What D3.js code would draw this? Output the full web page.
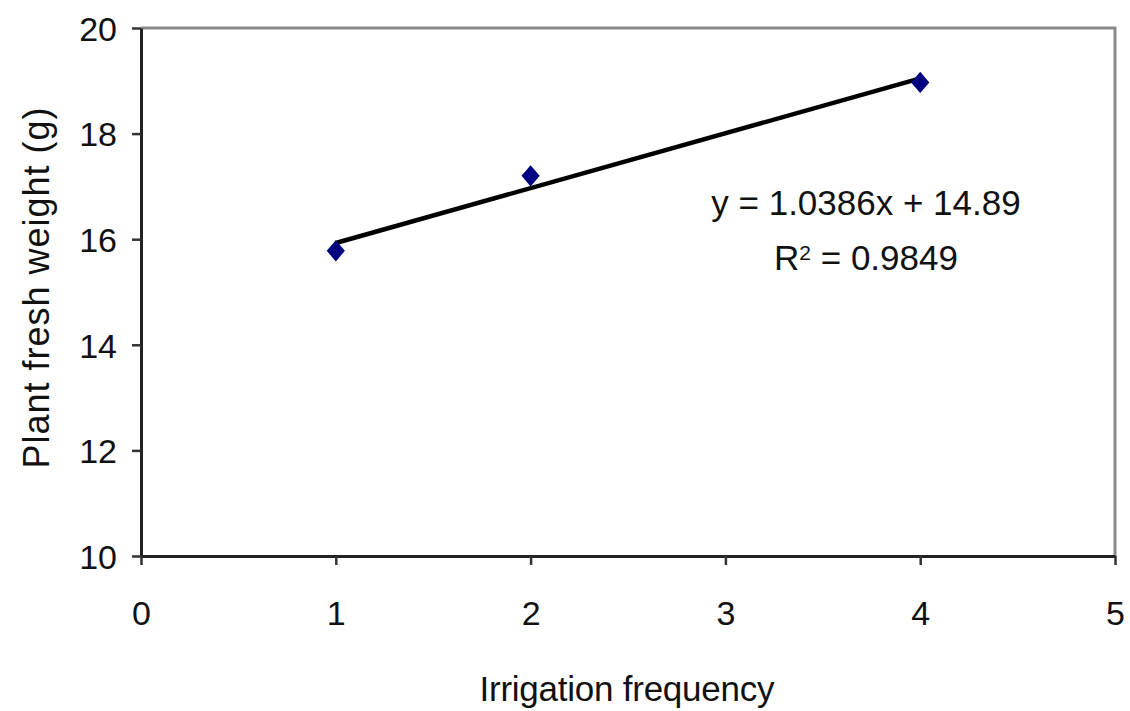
<!DOCTYPE html>
<html>
<head>
<meta charset="utf-8">
<script src="https://cdn.jsdelivr.net/npm/d3@7"></script>
<style>
  body { margin: 0; background: #fff; }
  svg { font-family: "Liberation Sans", Arial, sans-serif; }
</style>
</head>
<body>
<svg width="1130" height="711"></svg>
<script>
// data
var frequency = [1, 2, 4];
var freshWeight = [15.78, 17.2, 18.97];
var xTicks = [0, 1, 2, 3, 4, 5];
var yTicks = [10, 12, 14, 16, 18, 20];
var slope = 1.0386, intercept = 14.89;
var eqLabel = "y = 1.0386x + 14.89";
var r2Label = "0.9849";

var svg = d3.select("svg"),
    margin = { top: 28, right: 15, bottom: 155, left: 141 },
    width = +svg.attr("width") - margin.left - margin.right,
    height = +svg.attr("height") - margin.top - margin.bottom;

var x = d3.scaleLinear().domain([0, 5]).range([0, width]),
    y = d3.scaleLinear().domain([10, 20]).range([height, 0]);

var g = svg.append("g")
    .attr("transform", "translate(" + margin.left + "," + margin.top + ")");

// grey frame on top and right
g.append("path")
    .attr("d", "M0,0H" + width + "V" + height)
    .attr("fill", "none")
    .attr("stroke", "#8a8a8a")
    .attr("stroke-width", 3);

var xAxis = g.append("g")
    .attr("transform", "translate(0," + height + ")")
    .call(d3.axisBottom(x).tickValues(xTicks).tickFormat(d3.format("d"))
        .tickSize(9).tickSizeOuter(0).tickPadding(60));

var yAxis = g.append("g")
    .call(d3.axisLeft(y).tickValues(yTicks).tickFormat(d3.format("d"))
        .tickSize(9).tickSizeOuter(0).tickPadding(15));

[xAxis, yAxis].forEach(function (a) {
    a.select(".domain").attr("stroke", "#222").attr("stroke-width", 3);
    a.selectAll(".tick line").attr("stroke", "#333").attr("stroke-width", 2.5);
    a.selectAll(".tick text")
        .attr("fill", "#111")
        .style("font-size", "34px")
        .style("font-family", "'Liberation Sans', Arial, sans-serif");
});
xAxis.selectAll(".tick text").attr("dy", "0");
yAxis.selectAll(".tick text").attr("dy", "0.36em");

// trend line
g.append("line")
    .attr("x1", x(d3.min(frequency)))
    .attr("y1", y(slope * d3.min(frequency) + intercept))
    .attr("x2", x(d3.max(frequency)))
    .attr("y2", y(slope * d3.max(frequency) + intercept))
    .attr("stroke", "#000")
    .attr("stroke-width", 4.5);

// diamond markers
g.selectAll(".pt")
    .data(frequency)
    .enter().append("path")
    .attr("class", "pt")
    .attr("d", d3.symbol().type(d3.symbolDiamond2).size(260))
    .attr("transform", function (d, i) {
        return "translate(" + x(d) + "," + y(freshWeight[i]) + ") scale(0.9,1.05)";
    })
    .attr("fill", "#000080");

// equation text
g.append("text")
    .attr("x", 866 - margin.left)
    .attr("y", 215 - margin.top)
    .attr("text-anchor", "middle")
    .style("font-size", "35px")
    .attr("fill", "#111")
    .text(eqLabel);

var r2 = g.append("text")
    .attr("x", 866 - margin.left)
    .attr("y", 270 - margin.top)
    .attr("text-anchor", "middle")
    .style("font-size", "35px")
    .attr("fill", "#111");
r2.append("tspan").text("R");
r2.append("tspan").attr("dy", -10).style("font-size", "21px").text("2");
r2.append("tspan").attr("dy", 10).text(" = " + r2Label);

// axis titles
svg.append("text")
    .attr("x", 627)
    .attr("y", 701)
    .attr("text-anchor", "middle")
    .attr("textLength", 295)
    .style("font-size", "35px")
    .attr("fill", "#111")
    .text("Irrigation frequency");

svg.append("text")
    .attr("transform", "translate(49,288) rotate(-90)")
    .attr("text-anchor", "middle")
    .attr("textLength", 361)
    .style("font-size", "36px")
    .attr("fill", "#111")
    .text("Plant fresh weight (g)");
</script>
</body>
</html>
